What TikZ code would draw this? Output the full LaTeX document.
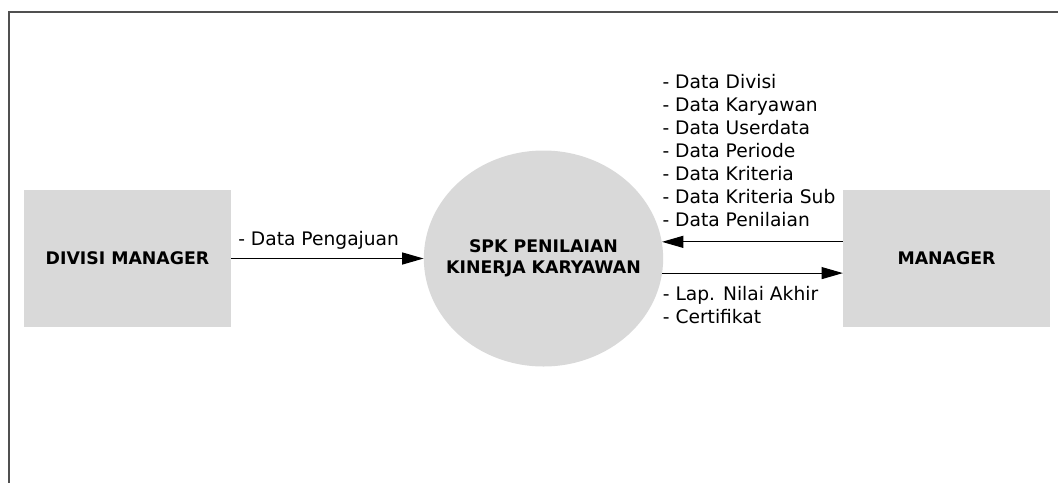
\documentclass[tikz,border=0pt]{standalone}
\usepackage{fontspec}
\setmainfont{DejaVu Sans}
\usetikzlibrary{arrows.meta,shapes.geometric}
\definecolor{boxgray}{RGB}{217,217,217}
\definecolor{framegray}{RGB}{80,80,80}
\tikzset{
  entity/.style={fill=boxgray,minimum width=155pt,minimum height=102.5pt,
    font=\fontsize{13}{15.75}\selectfont\bfseries,inner sep=0pt},
  process/.style={ellipse,fill=boxgray,minimum width=179.5pt,minimum height=162pt,
    font=\fontsize{13}{15.75}\selectfont\bfseries,align=center,inner sep=-40pt},
  flow/.style={line width=0.8pt,-{Triangle[length=16pt,width=9pt]}},
  lbl/.style={font=\fontsize{14}{17.2}\selectfont,align=left,inner sep=0pt}
}
\begin{document}
\begin{tikzpicture}[x=0.75pt,y=-0.75pt]
  \useasboundingbox (0,0) rectangle (1058,483);
  % frame
  \draw[framegray,line width=1.2pt] (1058,12) -- (9,12) -- (9,483);
  % entities and process
  \node[entity] (divisi) at (127.5,258.5) {DIVISI MANAGER};
  \node[entity] (mgr) at (946.5,258.5) {MANAGER};
  \node[process] (spk) at (543.5,258.5) {SPK PENILAIAN\\KINERJA KARYAWAN};
  % data flows
  \coordinate (spkin) at (spk.8.4);
  \coordinate (spkout) at (spk.-7);
  \draw[flow] (divisi.east) -- (spk.west)
    node[lbl,pos=0,anchor=base west,xshift=5pt,yshift=10pt] (lpengajuan) {- Data Pengajuan};
  \draw[flow] (mgr.west |- spkin) -- (spkin)
    node[lbl,pos=1,anchor=south west,yshift=10.9pt] (lmaster)
    {- Data Divisi\\- Data Karyawan\\- Data Userdata\\- Data Periode\\- Data Kriteria\\- Data Kriteria Sub\\- Data Penilaian};
  \draw[flow] (spkout) -- (mgr.west |- spkout)
    node[lbl,pos=0,anchor=north west,yshift=-9.4pt] (llaporan) {- Lap. Nilai Akhir\\- Certifikat};
\end{tikzpicture}
\end{document}
